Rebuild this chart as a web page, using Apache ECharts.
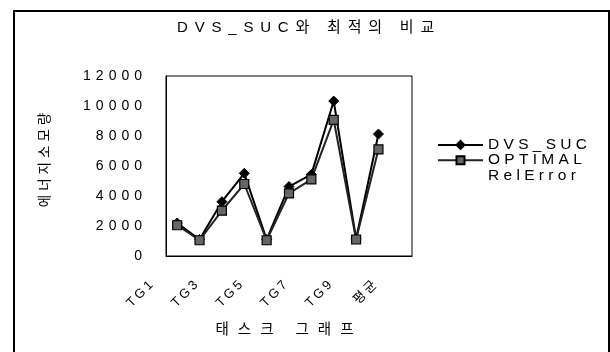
<!DOCTYPE html>
<html>
<head>
<meta charset="utf-8">
<script src="https://cdn.jsdelivr.net/npm/echarts@6/dist/echarts.min.js"></script>
<style>
html,body{margin:0;padding:0;background:#fff;}
#chart{width:610px;height:352px;}
</style>
</head>
<body>
<div id="chart"></div>
<script>
const categories = ['TG1','TG2','TG3','TG4','TG5','TG6','TG7','TG8','TG9','TG10','평균'];
const dvsSuc  = [2200, 1100, 3620, 5510, 1100, 4630, 5440, 10330, 1150, 8130, null];
const optimal = [2050, 1050, 3020, 4800, 1050, 4180, 5110, 9070, 1100, 7110, null];
const relError = [];
const seriesNames = ['DVS_SUC', 'OPTIMAL', 'RelError'];
const titleText = 'DVS_SUC와 최적의 비교';
const xAxisName = '태스크 그래프';
const yAxisName = '에너지소모량';

// letter tracking (the reference text is widely spaced), keyed by font size
const TRACKING = {'15': 6.8, '14': 5, '13': 3, '14.5': 9, '13.5': 4, '15.5': 4.3};
(function () {
  const proto = CanvasRenderingContext2D.prototype;
  const desc = Object.getOwnPropertyDescriptor(proto, 'font');
  if (!desc || !('letterSpacing' in proto)) return;
  Object.defineProperty(proto, 'font', {
    configurable: true,
    get: function () { return desc.get.call(this); },
    set: function (v) {
      desc.set.call(this, v);
      const m = /(\d+(?:\.\d+)?)px/.exec(v);
      const t = m ? TRACKING[m[1]] : undefined;
      this.letterSpacing = (t !== undefined ? t : 0) + 'px';
    }
  });
})();

const FONT = "'Liberation Sans', Arial, 'Noto Sans CJK KR', sans-serif";
const chart = echarts.init(document.getElementById('chart'), null, {renderer: 'canvas'});
chart.setOption({
  animation: false,
  backgroundColor: '#fff',
  textStyle: {fontFamily: FONT, color: '#000'},
  graphic: [
    {type: 'rect', shape: {x: 14, y: 11, width: 595, height: 360},
     style: {fill: 'none', stroke: '#000', lineWidth: 2}, silent: true},
    {type: 'text', x: 309, y: 28,
     style: {text: titleText, fontSize: 15, fontFamily: FONT, fill: '#000',
             align: 'center', verticalAlign: 'middle', textAlign: 'center', textVerticalAlign: 'middle'}},
    {type: 'text', x: 45, y: 158, rotation: Math.PI / 2,
     style: {text: yAxisName, fontSize: 13.5, fontFamily: FONT, fill: '#000',
             align: 'center', verticalAlign: 'middle', textAlign: 'center', textVerticalAlign: 'middle'}}
  ],
  grid: {left: 166, top: 76, width: 246, height: 180, show: true,
         borderColor: '#000', borderWidth: 1, backgroundColor: 'transparent'},
  legend: {
    orient: 'vertical', left: 437, top: 135, padding: 0,
    itemWidth: 45, itemHeight: 10, itemGap: -4.5,
    data: seriesNames,
    textStyle: {fontSize: 15.5, fontFamily: FONT, color: '#000', lineHeight: 15}
  },
  xAxis: {
    type: 'category', data: categories, boundaryGap: true,
    name: xAxisName, nameLocation: 'middle', nameGap: 62,
    nameTextStyle: {fontSize: 14.5, fontFamily: FONT, color: '#000'},
    axisLine: {show: true, lineStyle: {color: '#000', width: 1}},
    axisTick: {show: false},
    axisLabel: {interval: 1, rotate: 45, margin: 1, padding: [0, 34, 0, 0],
                fontSize: 13, fontFamily: FONT, color: '#000'},
    splitLine: {show: false}
  },
  yAxis: {
    type: 'value', min: 0, max: 12000, interval: 2000,
    axisLine: {show: true, lineStyle: {color: '#000', width: 1}},
    axisTick: {show: false},
    axisLabel: {margin: 19, fontSize: 14, fontFamily: FONT, color: '#000',
                formatter: function (v) { return String(v); }},
    splitLine: {show: false}
  },
  series: [
    {name: seriesNames[0], type: 'line', data: dvsSuc,
     symbol: 'diamond', symbolSize: 10,
     lineStyle: {color: '#000', width: 2},
     itemStyle: {color: '#000', borderColor: '#000', borderWidth: 1}},
    {name: seriesNames[1], type: 'line', data: optimal,
     symbol: 'rect', symbolSize: 9,
     lineStyle: {color: '#222', width: 2},
     itemStyle: {color: '#666', borderColor: '#000', borderWidth: 1.2}},
    {name: seriesNames[2], type: 'line', data: relError,
     symbol: 'none',
     lineStyle: {color: 'rgba(0,0,0,0)', width: 0},
     itemStyle: {color: 'rgba(0,0,0,0)'}}
  ]
});
</script>
</body>
</html>
